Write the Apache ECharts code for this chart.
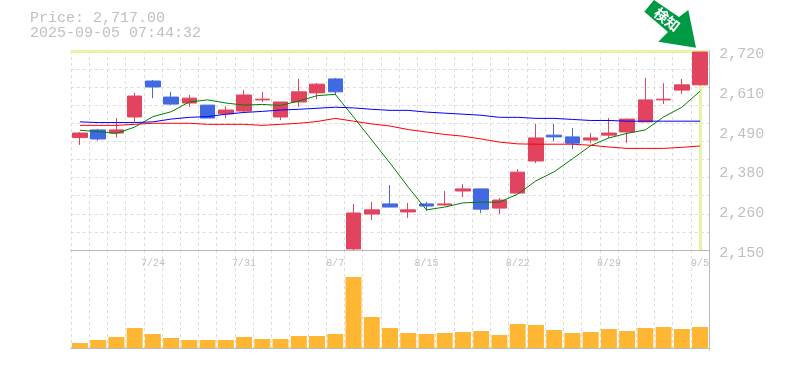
<!DOCTYPE html>
<html>
<head>
<meta charset="utf-8">
<title>chart</title>
<style>
html,body{margin:0;padding:0;background:#fff;}
#main{width:785px;height:370px;}
</style>
<script src="https://cdn.jsdelivr.net/npm/echarts@6/dist/echarts.min.js"></script>
</head>
<body>
<div id="main"></div>
<script>
var dates = ['7/17','7/18','7/22','7/23','7/24','7/25','7/28','7/29','7/30','7/31','8/1','8/4','8/5','8/6','8/7','8/8','8/12','8/13','8/14','8/15','8/18','8/19','8/20','8/21','8/22','8/25','8/26','8/27','8/28','8/29','9/1','9/2','9/3','9/4','9/5'];
// open, close, low, high
var candles = [
    [2472,2485,2451,2488],[2494,2468,2463,2497],[2485,2494,2472,2528],[2531,2591,2517,2600],[2634,2617,2585,2637],
    [2588,2568,2565,2603],[2571,2585,2560,2594],[2565,2528,2528,2565],[2540,2551,2528,2562],[2548,2594,2545,2608],
    [2580,2582,2574,2603],[2531,2574,2522,2574],[2574,2603,2560,2640],[2600,2625,2582,2628],[2640,2603,2594,2643],
    [2153,2256,2150,2282],[2253,2265,2236,2288],[2282,2273,2273,2336],[2259,2265,2242,2285],[2282,2276,2262,2288],
    [2279,2282,2276,2319],[2319,2325,2302,2339],[2325,2267,2256,2325],[2270,2293,2253,2299],[2313,2373,2313,2382],
    [2405,2471,2399,2511],[2479,2474,2462,2511],[2474,2456,2439,2499],[2465,2471,2456,2485],[2479,2485,2471,2528],
    [2488,2525,2456,2525],[2517,2580,2517,2643],[2580,2582,2568,2628],[2608,2623,2597,2640],[2623,2717,2623,2717]
];
var shortLine = [2493,2489,2484,2502,2532,2546,2574,2580,2571,2565,2567,2564,2577,2592,2596,2531,2465,2399,2330,2265,2273,2285,2287,2287,2310,2348,2374,2411,2449,2471,2484,2494,2531,2559,2605];
var midLine = [2517,2515,2515,2515,2517,2525,2530,2532,2539,2544,2547,2551,2553,2556,2559,2557,2553,2550,2550,2545,2542,2539,2536,2530,2530,2527,2527,2524,2521,2521,2519,2519,2519,2519,2519];
var longLine = [2507,2507,2507,2510,2513,2513,2513,2510,2510,2510,2507,2510,2513,2518,2527,2519,2511,2505,2495,2488,2481,2476,2468,2459,2454,2453,2453,2453,2450,2445,2441,2441,2441,2444,2448];
var volumes = [5000,8000,11000,20000,14000,10000,8000,8000,8000,11000,9000,9000,12000,12000,14000,71000,31000,20000,15000,14000,15000,16000,17000,13000,24000,23000,18000,15000,16000,19000,17000,20000,21000,19000,21000];
var priceTicks = ['2,150','2,260','2,380','2,490','2,610','2,720'];
var gridRows = ['','','','','','','','','','','',''];
var priceMin = 2150, priceMax = 2720;
var titleText = 'Price: 2,717.00\n2025-09-05 07:44:32';

var chart = echarts.init(document.getElementById('main'));
var mono = '"Liberation Mono","DejaVu Sans Mono",monospace';
var dash = {show: true, lineStyle: {color: '#dddddd', type: [3,3], width: 1}};

function lineSeries(data, color) {
    return {
        type: 'line', data: data, xAxisIndex: 0, yAxisIndex: 0,
        showSymbol: false, silent: true, z: 4,
        lineStyle: {color: color, width: 1}
    };
}

var option = {
    animation: false,
    backgroundColor: '#fff',
    title: {
        text: titleText, left: 25, top: 6,
        textStyle: {fontFamily: mono, fontSize: 15, fontWeight: 'normal', color: '#c0c0c0', lineHeight: 15}
    },
    grid: [
        {left: 70.8, right: 75.8, top: 51, height: 199},
        {left: 70.8, right: 75.8, top: 250, height: 100}
    ],
    xAxis: [
        {
            type: 'category', gridIndex: 0, data: dates, position: 'bottom',
            axisLine: {show: true, lineStyle: {color: '#bbbbbb'}},
            axisTick: {show: false},
            axisLabel: {
                interval: function (i) { return i % 5 === 4; },
                fontFamily: mono, fontSize: 10, color: '#c0c0c0', margin: 8
            },
            splitLine: Object.assign({interval: 0}, dash)
        },
        {
            type: 'category', gridIndex: 1, data: dates, position: 'bottom',
            axisLine: {show: true, lineStyle: {color: '#bbbbbb'}},
            axisTick: {show: false}, axisLabel: {show: false},
            splitLine: Object.assign({interval: 0}, dash)
        }
    ],
    yAxis: [
        // price scale, no visible parts
        {
            type: 'value', gridIndex: 0, min: priceMin, max: priceMax, position: 'right',
            axisLine: {show: false}, axisTick: {show: false}, axisLabel: {show: false}, splitLine: {show: false}
        },
        // 11 dashed rows
        {
            type: 'category', gridIndex: 0, data: gridRows, boundaryGap: false, position: 'left',
            axisLine: {show: false}, axisTick: {show: false}, axisLabel: {show: false},
            splitLine: Object.assign({interval: 0}, dash)
        },
        // tick labels, five even steps
        {
            type: 'category', gridIndex: 0, data: priceTicks, boundaryGap: false, position: 'right',
            axisLine: {show: true, lineStyle: {color: '#bbbbbb'}},
            axisTick: {show: false},
            axisLabel: {
                interval: 0, fontFamily: mono, fontSize: 15, color: '#c0c0c0', margin: 10,
                verticalAlign: 'top', lineHeight: 6
            },
            splitLine: {show: false}
        },
        // volume
        {
            type: 'value', gridIndex: 1, min: -2000, max: 98000, position: 'right',
            axisLine: {show: true, lineStyle: {color: '#bbbbbb'}},
            axisTick: {show: false}, axisLabel: {show: false}, splitLine: {show: false}
        }
    ],
    series: [
        {
            type: 'candlestick', data: candles, xAxisIndex: 0, yAxisIndex: 0,
            barWidth: 15, z: 3, silent: true,
            itemStyle: {color: '#e2445f', color0: '#4169e1', borderColor: '#e2445f', borderColor0: '#4169e1', borderWidth: 1}
        },
        // highlight lines behind the candles
        {
            type: 'line', data: [], xAxisIndex: 0, yAxisIndex: 0, silent: true, z: 1,
            markLine: {
                silent: true, symbol: 'none', animation: false, z: 1,
                label: {show: false},
                lineStyle: {color: '#e3f5a6', width: 3, type: 'solid'},
                data: [{yAxis: priceMax}, {xAxis: dates[dates.length - 1]}]
            }
        },
        lineSeries(shortLine, '#008000'),
        lineSeries(midLine, '#0000ff'),
        lineSeries(longLine, '#ff0000'),
        {
            type: 'bar', data: volumes, xAxisIndex: 1, yAxisIndex: 3,
            barWidth: 16, silent: true, z: 3,
            itemStyle: {color: '#ffb733'}
        }
    ],
    graphic: [
        {
            type: 'polygon', z: 10, silent: true,
            shape: {points: [[644.3,11.7],[654,0],[679,17],[688.3,10],[696,47.7],[658.3,41.7],[668,32]]},
            style: {fill: '#009944'}
        },
        {
            type: 'text', z: 11, silent: true,
            x: 667, y: 19.5, rotation: -38 * Math.PI / 180,
            style: {text: '検知', fill: '#fff', font: 'bold 14px "Noto Sans CJK JP"', align: 'center', verticalAlign: 'middle'}
        }
    ]
};
chart.setOption(option);
</script>
</body>
</html>
